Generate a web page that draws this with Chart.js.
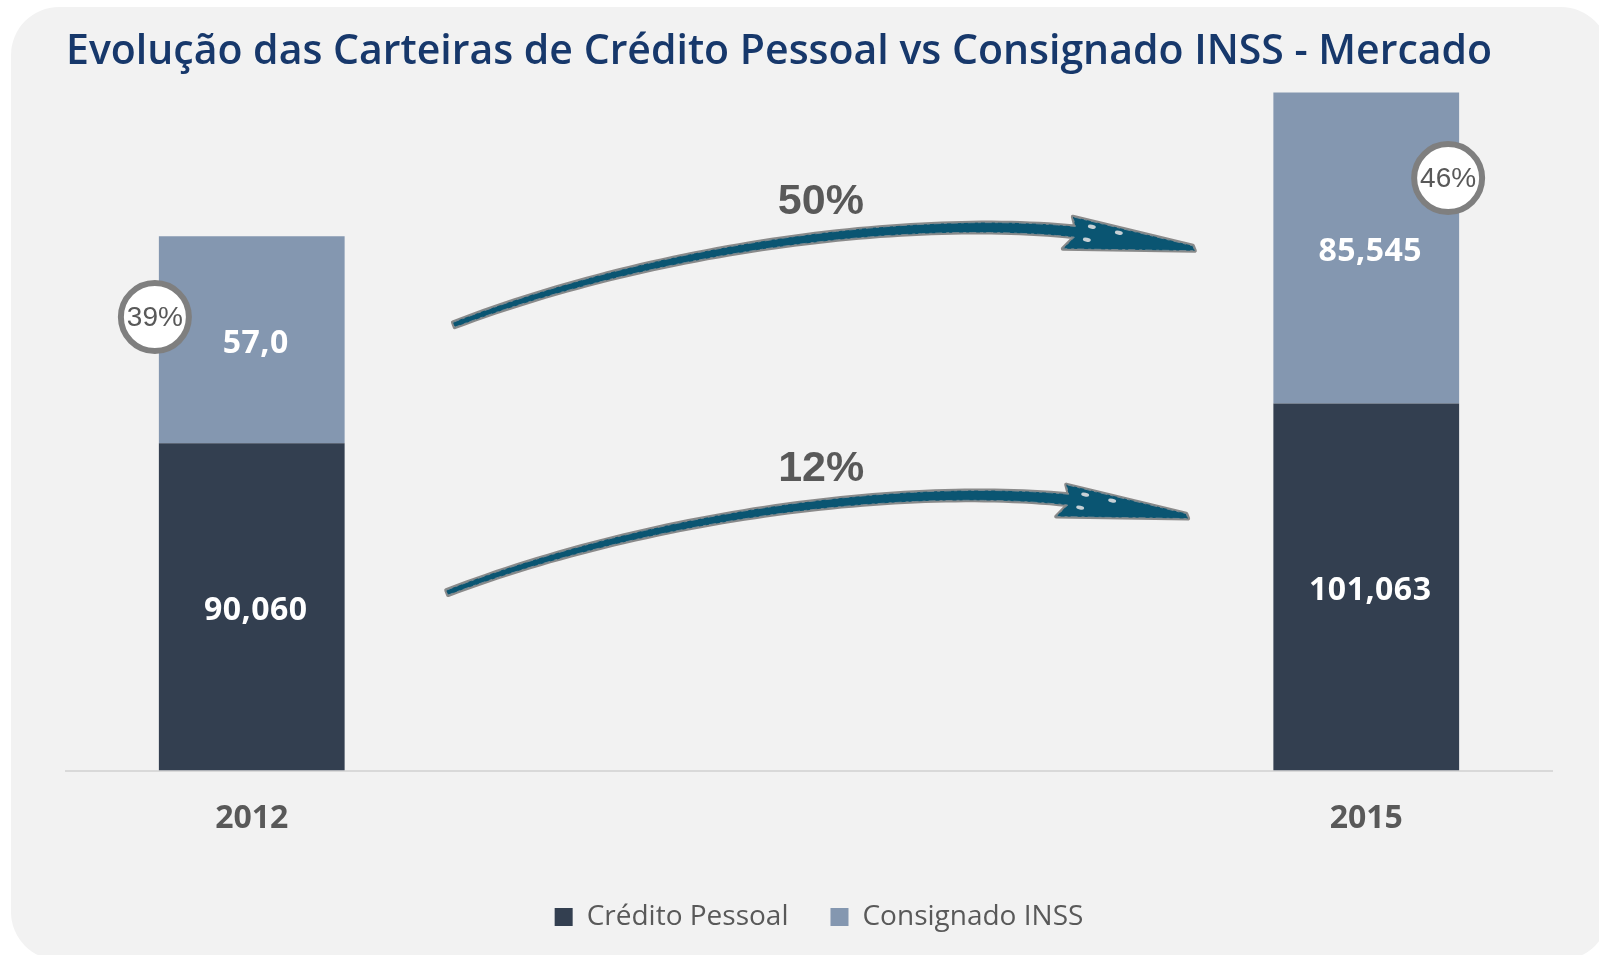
<!DOCTYPE html>
<html>
<head>
<meta charset="utf-8">
<title>Evolução das Carteiras</title>
<script src="https://cdn.jsdelivr.net/npm/chart.js@4.4.0/dist/chart.umd.min.js"></script>
<style>
  html, body { margin: 0; padding: 0; background: #ffffff; overflow: hidden; }
  #panel { position: absolute; left: 11px; top: 7px; width: 1598px; height: 953px; background: #f2f2f2; border-radius: 48px; }
  #wrap { position: absolute; left: 0; top: 0; width: 1599px; height: 955px; }
</style>
</head>
<body>
<div id="panel"></div>
<div id="wrap"><canvas id="carteiras" width="1599" height="955"></canvas></div>
<script>
(function () {
  "use strict";

  // Data (2013 and 2014 are empty slots in the original chart)
  const categories       = ['2012', '', '', '2015'];
  const creditoPessoal   = [90060, null, null, 101063];
  const consignadoINSS   = [57000, null, null, 85545];
  const creditoLabels    = ['90,060', '', '', '101,063'];
  const consignadoLabels = ['57,0', '', '', '85,545'];
  const seriesNames      = ['Crédito Pessoal', 'Consignado INSS'];

  // Colors
  const dark_blue  = '#333f50';
  const light_blue = '#8497b0';
  const text_gray  = '#595959';
  const title_blue = '#17386b';
  const arrow_teal = '#0a5572';

  const first = 0;
  const last  = categories.length - 1;

  function pct(v) {
    return Math.round(v * 100) + '%';
  }

  // values inside the bars
  const barLabels = {
    id: 'barLabels',
    afterDatasetsDraw(chart) {
      const ctx = chart.ctx;
      const texts = [creditoLabels, consignadoLabels];
      ctx.save();
      ctx.font = 'bold 32px "Open Sans"';
      ctx.letterSpacing = '0.5px';
      ctx.fillStyle = '#ffffff';
      ctx.textAlign = 'center';
      ctx.textBaseline = 'middle';
      chart.data.datasets.forEach(function (ds, d) {
        chart.getDatasetMeta(d).data.forEach(function (bar, i) {
          if (ds.data[i] == null) return;
          ctx.fillText(texts[d][i], bar.x + 4, (bar.y + bar.base) / 2 + 4);
        });
      });
      ctx.restore();
    }
  };

  // share of consignado in the total, in a circle
  const shareBadges = {
    id: 'shareBadges',
    afterDatasetsDraw(chart) {
      const ctx = chart.ctx;
      const meta = chart.getDatasetMeta(1);
      const badges = [
        { i: first, dx: function (b) { return -b.width / 2 - 4; }, f: 0.39 },
        { i: last,  dx: function (b) { return b.width / 2 - 11; }, f: 0.275 }
      ];
      ctx.save();
      badges.forEach(function (bd) {
        const bar = meta.data[bd.i];
        const share = consignadoINSS[bd.i] / (consignadoINSS[bd.i] + creditoPessoal[bd.i]);
        const cx = bar.x + bd.dx(bar);
        const cy = bar.y + (bar.base - bar.y) * bd.f;
        ctx.beginPath();
        ctx.arc(cx, cy, 34, 0, Math.PI * 2);
        ctx.fillStyle = '#ffffff';
        ctx.fill();
        ctx.lineWidth = 6;
        ctx.strokeStyle = '#7f7f7f';
        ctx.stroke();
        ctx.font = '28px "Liberation Sans"';
        ctx.fillStyle = text_gray;
        ctx.textAlign = 'center';
        ctx.textBaseline = 'middle';
        ctx.fillText(pct(share), cx, cy + 1);
      });
      ctx.restore();
    }
  };

  // hand drawn growth arrows
  const growthArrows = {
    id: 'growthArrows',
    afterDatasetsDraw(chart) {
      const ctx = chart.ctx;
      const xs = chart.scales.x;
      const ys = chart.scales.y;
      const arrows = [
        { at: [0.544, 122700], lx: 367, g: consignadoINSS[last] / consignadoINSS[first] - 1 },
        { at: [0.526, 48970],  lx: 374, g: creditoPessoal[last] / creditoPessoal[first] - 1 }
      ];
      const P = [[0, 0], [196, -75], [446, -110], [621, -93]];

      function bez(t, k) {
        const u = 1 - t;
        return u * u * u * P[0][k] + 3 * u * u * t * P[1][k] + 3 * u * t * t * P[2][k] + t * t * t * P[3][k];
      }
      function der(t, k) {
        const u = 1 - t;
        return 3 * u * u * (P[1][k] - P[0][k]) + 6 * u * t * (P[2][k] - P[1][k]) + 3 * t * t * (P[3][k] - P[2][k]);
      }

      ctx.save();
      arrows.forEach(function (a) {
        const x0 = xs.getPixelForValue(a.at[0]);
        const y0 = ys.getPixelForValue(a.at[1]);
        const upper = [];
        const lower = [];
        for (let s = 0; s <= 60; s++) {
          const t = s / 60;
          const px = bez(t, 0), py = bez(t, 1);
          const dx = der(t, 0), dy = der(t, 1);
          const len = Math.hypot(dx, dy);
          const nx = dy / len, ny = -dx / len;
          const w = 2.6 + 2.8 * t;
          upper.push([px + nx * w, py + ny * w]);
          lower.push([px - nx * w, py - ny * w]);
        }
        ctx.beginPath();
        ctx.moveTo(x0 + upper[0][0], y0 + upper[0][1]);
        upper.forEach(function (p) { ctx.lineTo(x0 + p[0], y0 + p[1]); });
        ctx.lineTo(x0 + 619, y0 - 108);
        ctx.lineTo(x0 + 739, y0 - 79);
        ctx.lineTo(x0 + 741, y0 - 74);
        ctx.lineTo(x0 + 609, y0 - 76);
        for (let s = lower.length - 1; s >= 0; s--) {
          ctx.lineTo(x0 + lower[s][0], y0 + lower[s][1]);
        }
        ctx.closePath();
        ctx.lineJoin = 'round';
        ctx.lineWidth = 4;
        ctx.strokeStyle = '#8a8a8a';
        ctx.stroke();
        ctx.fillStyle = arrow_teal;
        ctx.fill();
        ctx.lineWidth = 1;
        ctx.setLineDash([7, 3, 3, 4]);
        ctx.strokeStyle = '#7a8a92';
        ctx.stroke();
        ctx.setLineDash([]);

        // light specks on the head
        [[638, -98], [665, -92], [633, -85]].forEach(function (sp) {
          ctx.beginPath();
          ctx.ellipse(x0 + sp[0], y0 + sp[1], 4, 2, 0.2, 0, Math.PI * 2);
          ctx.fillStyle = '#c7d0d5';
          ctx.fill();
        });

        ctx.font = 'bold 43px "Liberation Sans"';
        ctx.fillStyle = text_gray;
        ctx.textAlign = 'center';
        ctx.textBaseline = 'middle';
        ctx.fillText(pct(a.g), x0 + a.lx, y0 - 123);
      });
      ctx.restore();
    }
  };

  // nudge the legend to sit where the original one is
  const legendShift = {
    id: 'legendShift',
    afterUpdate(chart) {
      chart.legend.left += 10;
      chart.legend.right += 10;
    }
  };

  const ctx = document.getElementById('carteiras').getContext('2d');
  const CarteirasChart = new Chart(ctx, {
    type: 'bar',
    data: {
      labels: categories,
      datasets: [{
        label: seriesNames[0],
        data: creditoPessoal,
        backgroundColor: dark_blue,
        borderWidth: 0,
        barPercentage: 0.5,
        categoryPercentage: 1.0
      },
      {
        label: seriesNames[1],
        data: consignadoINSS,
        backgroundColor: light_blue,
        borderWidth: 0,
        barPercentage: 0.5,
        categoryPercentage: 1.0
      }]
    },
    options: {
      responsive: false,
      animation: false,
      layout: {
        padding: { left: 66, right: 47, top: 0, bottom: 14 }
      },
      scales: {
        x: {
          stacked: true,
          offset: true,
          grid: { display: false, drawTicks: false },
          border: { display: true, color: '#d9d9d9', width: 2 },
          ticks: {
            color: text_gray,
            autoSkip: false,
            maxRotation: 0,
            padding: 29.3,
            font: { family: 'Open Sans', size: 32, weight: 'bold' }
          }
        },
        y: {
          stacked: true,
          display: false,
          min: 0,
          max: 187000
        }
      },
      plugins: {
        title: {
          display: true,
          text: 'Evolução das Carteiras de Crédito Pessoal vs Consignado INSS - Mercado',
          align: 'start',
          color: title_blue,
          font: { family: 'Open Sans', size: 41, weight: '600' },
          padding: { top: 28, bottom: 14 }
        },
        legend: {
          display: true,
          position: 'bottom',
          title: {
            display: true,
            text: '',
            font: { size: 10 },
            padding: { top: 0, bottom: -18.5 }
          },
          labels: {
            boxWidth: 18,
            boxHeight: 18,
            padding: 42,
            color: text_gray,
            font: { family: 'Open Sans', size: 28 }
          }
        },
        tooltip: { enabled: false }
      }
    },
    plugins: [growthArrows, barLabels, shareBadges, legendShift]
  });
})();
</script>
</body>
</html>
